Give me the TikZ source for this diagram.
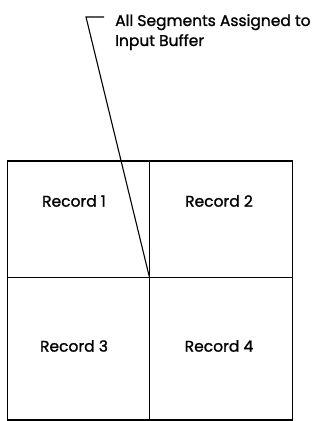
\documentclass[tikz,border=0pt]{standalone}
\usepackage{fontspec}
\setmainfont{Poppins}[FakeBold=1.2]
\begin{document}
\begin{tikzpicture}[x=1pt,y=1pt,
  rec/.style={font=\fontsize{15.5}{18}\selectfont, inner sep=0pt},
  lab/.style={font=\fontsize{15.5}{18}\selectfont, inner sep=0pt, anchor=base west},
  ln/.style={line width=1.3pt, black}]
\useasboundingbox (0,0) rectangle (325,421);
\coordinate (bl) at (7.5,1);
\coordinate (tr) at (292.5,260);
\coordinate (mid) at (149.5,143.5);
\draw[ln] (bl) rectangle (tr);
\draw[ln] (149.5,1) -- (149.5,260);
\draw[ln] (7.5,143.5) -- (292.5,143.5);
\node[rec] (r1) at (74,220) {Record 1};
\node[rec] (r2) at (219,220) {Record 2};
\node[rec] (r3) at (74,75) {Record 3};
\node[rec] (r4) at (219,75) {Record 4};
\node[lab] (l1) at (115,395) {All Segments Assigned to};
\node[lab] (l2) at (115,375) {Input Buffer};
\coordinate (corner) at (86,404);
\coordinate (tip) at (104,404);
\draw[line width=1.1pt] (mid) -- (corner) -- (tip);
\end{tikzpicture}
\end{document}
